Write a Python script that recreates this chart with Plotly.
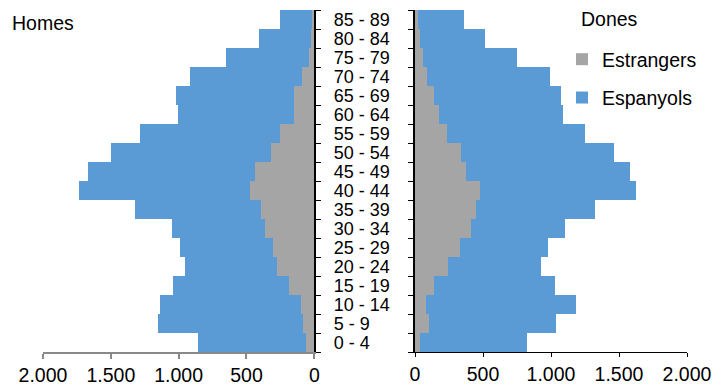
import plotly.graph_objects as go

age_groups = ["0 - 4", "5 - 9", "10 - 14", "15 - 19", "20 - 24", "25 - 29", "30 - 34",
              "35 - 39", "40 - 44", "45 - 49", "50 - 54", "55 - 59", "60 - 64", "65 - 69",
              "70 - 74", "75 - 79", "80 - 84", "85 - 89"]

homes_estrangers = [61, 81, 98, 186, 272, 302, 361, 395, 474, 439, 319, 253, 152, 152, 91, 37, 27, 20]
homes_espanyols = [800, 1072, 1041, 857, 680, 687, 689, 930, 1259, 1232, 1178, 1035, 854, 869, 824, 613, 383, 233]

dones_estrangers = [39, 105, 78, 140, 245, 328, 409, 446, 475, 372, 335, 233, 174, 140, 88, 61, 37, 24]
dones_espanyols = [781, 930, 1109, 886, 680, 651, 697, 881, 1153, 1209, 1126, 1020, 915, 937, 906, 691, 480, 338]

x_ticks = [0, 500, 1000, 1500, 2000]

GRAY = "#A5A5A5"
BLUE = "#5B9BD5"
FONT = "Liberation Sans, Arial, sans-serif"

fig = go.Figure()

fig.add_trace(go.Bar(y=age_groups, x=homes_estrangers, orientation="h", name="Estrangers",
                     marker=dict(color=GRAY, line=dict(width=0)), xaxis="x", yaxis="y",
                     showlegend=False, legendgroup="e"))
fig.add_trace(go.Bar(y=age_groups, x=homes_espanyols, orientation="h", name="Espanyols",
                     marker=dict(color=BLUE, line=dict(width=0)), xaxis="x", yaxis="y",
                     showlegend=False, legendgroup="s"))
fig.add_trace(go.Bar(y=age_groups, x=dones_estrangers, orientation="h", name="Estrangers",
                     marker=dict(color=GRAY, line=dict(width=0)), xaxis="x2", yaxis="y2",
                     showlegend=True, legendgroup="e"))
fig.add_trace(go.Bar(y=age_groups, x=dones_espanyols, orientation="h", name="Espanyols",
                     marker=dict(color=BLUE, line=dict(width=0)), xaxis="x2", yaxis="y2",
                     showlegend=True, legendgroup="s"))

W, H = 719, 387
ml, mr, mt, mb = 43, 32, 10, 35
pw = W - ml - mr
ph = H - mt - mb

fig.update_layout(
    width=W, height=H,
    margin=dict(l=ml, r=mr, t=mt, b=mb, autoexpand=False),
    paper_bgcolor="white", plot_bgcolor="white",
    barmode="stack", bargap=0,
    separators=",.",
    font=dict(family=FONT, size=19, color="#000000"),
    xaxis=dict(domain=[0, (314.3 - ml) / pw], range=[2000, 0], tickvals=x_ticks,
               tickformat=",d", showgrid=False, zeroline=False, showline=True,
               linecolor="#898989", linewidth=1.5, ticks="outside", ticklen=5,
               tickcolor="#898989", tickwidth=1.5, anchor="y",
               tickfont=dict(size=19.5)),
    xaxis2=dict(domain=[(415 - ml) / pw, 1], range=[0, 2000], tickvals=x_ticks,
                tickformat=",d", showgrid=False, zeroline=False, showline=True,
                linecolor="#000000", linewidth=1.2, ticks="outside", ticklen=4,
                tickcolor="#000000", tickwidth=1.2, anchor="y2",
                tickfont=dict(size=19.5)),
    yaxis=dict(type="category", categoryorder="array", categoryarray=age_groups,
               tickmode="array", tickvals=age_groups, ticktext=age_groups,
               side="right", anchor="x", showline=True, linecolor="#000000", linewidth=1.5,
               ticks="outside", tickson="boundaries", ticklen=5, tickcolor="#000000",
               tickwidth=1, showgrid=False, zeroline=False, ticklabelstandoff=14,
               tickfont=dict(size=18)),
    yaxis2=dict(type="category", categoryorder="array", categoryarray=age_groups,
                tickmode="array", tickvals=age_groups,
                side="left", anchor="x2", matches="y", showline=True, linecolor="#000000",
                linewidth=1.5, ticks="outside", tickson="boundaries", ticklen=5,
                tickcolor="#000000", tickwidth=1, showgrid=False, zeroline=False,
                showticklabels=False),
    legend=dict(x=(562 - ml) / pw, y=(ph - 30) / ph, xanchor="left", yanchor="top",
                traceorder="grouped", tracegroupgap=10, bgcolor="rgba(0,0,0,0)",
                font=dict(size=19.5)),
    annotations=[
        dict(text="Homes", xref="paper", yref="paper", x=(10 - ml) / pw,
             y=(ph - 13) / ph, xanchor="left", yanchor="middle", showarrow=False,
             font=dict(size=19.5)),
        dict(text="Dones", xref="paper", yref="paper", x=(579 - ml) / pw,
             y=(ph - 9) / ph, xanchor="left", yanchor="middle", showarrow=False,
             font=dict(size=19.5)),
    ],
)

fig.write_html("out.html",
               config={"displayModeBar": False},
               post_script="document.body.style.margin='0';document.body.style.padding='0';")
